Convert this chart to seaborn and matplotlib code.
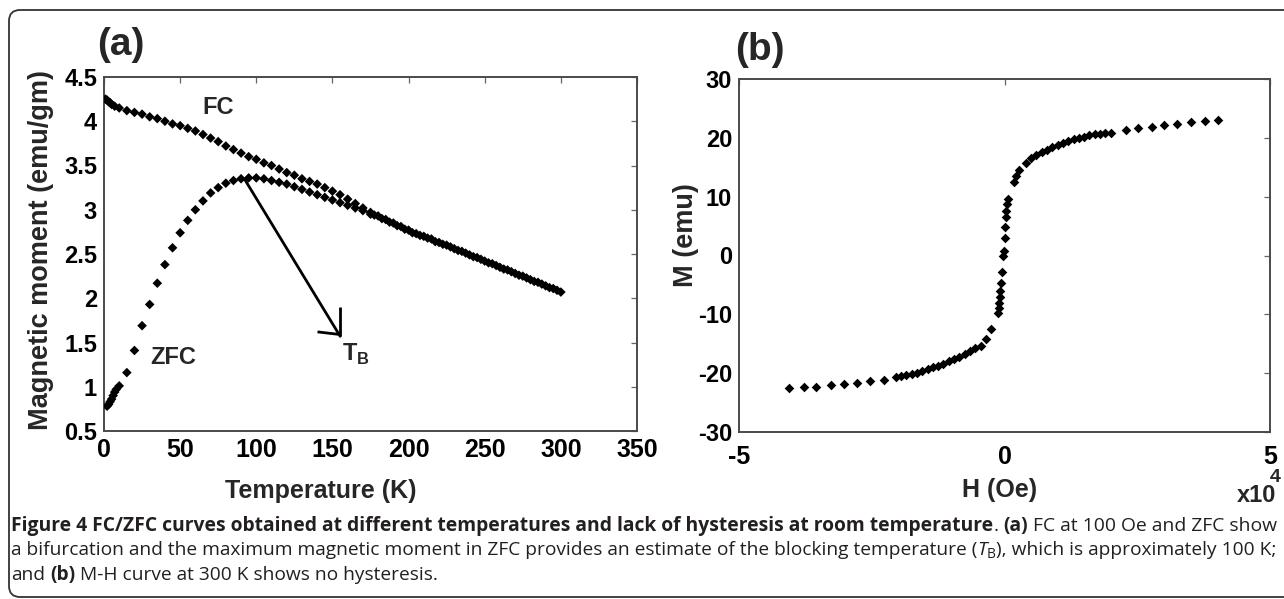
import matplotlib
matplotlib.use("Agg")
import matplotlib.pyplot as plt
import matplotlib.ticker as mticker
from matplotlib.patches import FancyBboxPatch
from matplotlib.transforms import IdentityTransform
import pandas as pd
import seaborn as sns

# ---------------- data ----------------
fc_T = [1, 2, 3, 4, 5, 7, 10, 15, 20, 25, 30, 35, 40, 45, 50, 55, 60, 65, 70, 75,
        80, 85, 90, 95, 100, 105, 110, 115, 120, 125, 130, 135, 140, 145, 150, 155,
        160, 165, 170, 175, 180, 185, 190, 195, 200, 205, 210, 215, 220, 225, 230,
        235, 240, 245, 250, 255, 260, 265, 270, 275, 280, 285, 290, 295, 300]
fc_M = [4.25, 4.24, 4.22, 4.21, 4.19, 4.17, 4.15, 4.12, 4.10, 4.08, 4.05, 4.03, 4.00,
        3.97, 3.95, 3.92, 3.89, 3.85, 3.81, 3.77, 3.72, 3.68, 3.64, 3.60, 3.57, 3.53,
        3.50, 3.46, 3.42, 3.39, 3.35, 3.32, 3.29, 3.25, 3.21, 3.17, 3.12, 3.07, 3.02,
        2.97, 2.93, 2.89, 2.85, 2.81, 2.77, 2.73, 2.70, 2.67, 2.63, 2.60, 2.56, 2.53,
        2.49, 2.46, 2.42, 2.39, 2.35, 2.32, 2.28, 2.25, 2.21, 2.18, 2.14, 2.11, 2.07]

zfc_T = [2, 3, 4, 5, 6, 7, 8, 10, 15, 20, 25, 30, 35, 40, 45, 50, 55, 60, 65, 70, 75,
         80, 85, 90, 95, 100, 105, 110, 115, 120, 125, 130, 135, 140, 145, 150, 155,
         160, 165, 170, 175, 177.5, 182.5, 187.5, 192.5, 197.5, 202.5, 207.5, 212.5,
         217.5, 222.5, 227.5, 232.5, 237.5, 242.5, 247.5, 252.5, 257.5, 262.5, 267.5,
         272.5, 277.5, 282.5, 287.5, 292.5, 297.5]
zfc_M = [0.78, 0.80, 0.83, 0.86, 0.90, 0.94, 0.97, 1.01, 1.16, 1.41, 1.69, 1.93, 2.17,
         2.38, 2.57, 2.74, 2.88, 3.00, 3.10, 3.19, 3.25, 3.30, 3.33, 3.35, 3.36, 3.36,
         3.35, 3.33, 3.31, 3.29, 3.26, 3.23, 3.20, 3.17, 3.14, 3.11, 3.08, 3.05, 3.02,
         2.99, 2.95, 2.94, 2.90, 2.86, 2.82, 2.78, 2.74, 2.71, 2.68, 2.64, 2.61, 2.58,
         2.54, 2.51, 2.47, 2.44, 2.40, 2.37, 2.33, 2.30, 2.26, 2.23, 2.19, 2.16, 2.12,
         2.09]

# field in units of 1e4 Oe, magnetisation in emu
mh_H = [-4.05, -3.78, -3.55, -3.27, -3.02, -2.78, -2.53, -2.27, -2.05, -1.95, -1.85,
        -1.75, -1.65, -1.55, -1.45, -1.35, -1.25, -1.15, -1.05, -0.95, -0.85, -0.75,
        -0.65, -0.55, -0.45, -0.35, -0.25, -0.12, -0.11, -0.10, -0.09, -0.08, -0.07,
        -0.05, -0.02, -0.01, 0.00, 0.01, 0.02, 0.03, 0.05, 0.06, 0.18, 0.22, 0.28,
        0.40, 0.50, 0.60, 0.70, 0.80, 0.90, 1.00, 1.10, 1.20, 1.30, 1.40, 1.50, 1.60,
        1.70, 1.80, 1.90, 2.00, 2.28, 2.52, 2.77, 3.00, 3.25, 3.52, 3.77, 4.02]
mh_M = [-22.6, -22.3, -22.3, -22.0, -21.9, -21.6, -21.3, -21.1, -20.7, -20.5, -20.3,
        -20.1, -19.9, -19.6, -19.3, -19.0, -18.7, -18.4, -18.0, -17.6, -17.2, -16.8,
        -16.3, -15.7, -15.3, -14.2, -12.5, -9.8, -9.0, -8.0, -7.0, -6.0, -4.6, -2.8,
        0.0, 0.8, 3.0, 4.9, 6.5, 7.5, 8.7, 9.6, 12.5, 13.5, 14.5, 15.8, 16.6, 17.1,
        17.6, 18.0, 18.4, 18.8, 19.2, 19.5, 19.8, 20.0, 20.2, 20.4, 20.6, 20.7, 20.8,
        20.9, 21.3, 21.6, 21.9, 22.2, 22.4, 22.7, 22.8, 23.0]

a_xticks = [0, 50, 100, 150, 200, 250, 300, 350]
a_yticks = [0.5, 1, 1.5, 2, 2.5, 3, 3.5, 4, 4.5]
b_xticks = [-5, 0, 5]
b_yticks = [-30, -20, -10, 0, 10, 20, 30]

# ---------------- style ----------------
sns.set_theme(style="white")
plt.rcParams['font.family'] = ['Liberation Sans', 'DejaVu Sans']
plt.rcParams['mathtext.fontset'] = 'custom'
plt.rcParams['mathtext.rm'] = 'Liberation Sans:bold'
plt.rcParams['mathtext.bf'] = 'Liberation Sans:bold'

W, H = 1284, 599
fig = plt.figure(figsize=(W / 100, H / 100), dpi=100)
fig.patch.set_facecolor('white')


def fx(px):
    return px / W


def fy(py):
    return 1 - py / H


ax_a = fig.add_axes([fx(104), fy(431), (637 - 104) / W, (431 - 77) / H])
ax_b = fig.add_axes([fx(739), fy(432), (1270 - 739) / W, (432 - 79) / H])

df_a = pd.DataFrame({'T': fc_T + zfc_T, 'M': fc_M + zfc_M,
                     'curve': ['FC'] * len(fc_T) + ['ZFC'] * len(zfc_T)})
sns.scatterplot(data=df_a, x='T', y='M', hue='curve',
                palette={'FC': 'black', 'ZFC': 'black'}, marker='D', s=24,
                linewidth=0, legend=False, ax=ax_a, zorder=3)

df_b = pd.DataFrame({'H': mh_H, 'M': mh_M})
sns.scatterplot(data=df_b, x='H', y='M', color='black', marker='D', s=24,
                linewidth=0, legend=False, ax=ax_b, zorder=3)

spine_col = '#4a4a4a'
for ax in (ax_a, ax_b):
    ax.set_facecolor('white')
    for s in ax.spines.values():
        s.set_visible(True)
        s.set_color(spine_col)
        s.set_linewidth(1.4)
    ax.set_xlabel('')
    ax.set_ylabel('')
    ax.tick_params(direction='in', top=True, right=True, length=4, width=0.9,
                   color='#666666', labelcolor='black')
    ax.yaxis.set_major_formatter(mticker.FormatStrFormatter('%g'))
    ax.xaxis.set_major_formatter(mticker.FormatStrFormatter('%g'))

ax_a.set_xlim(0, 350)
ax_a.set_ylim(0.5, 4.5)
ax_a.set_xticks(a_xticks)
ax_a.set_yticks(a_yticks)
ax_a.tick_params(axis='x', pad=5, labelsize=18)
ax_a.tick_params(axis='y', pad=5, labelsize=17)

ax_b.set_xlim(-5, 5)
ax_b.set_ylim(-30, 30)
ax_b.set_xticks(b_xticks)
ax_b.set_yticks(b_yticks)
ax_b.tick_params(axis='x', pad=9, labelsize=18)
ax_b.tick_params(axis='y', pad=5, labelsize=17)

for ax in (ax_a, ax_b):
    for lab in ax.get_xticklabels() + ax.get_yticklabels():
        lab.set_fontweight('bold')

# annotations in panel (a)
ax_a.text(74.8, 4.15, 'FC', fontsize=17, fontweight='bold', ha='center', va='center')
ax_a.text(45.4, 1.33, 'ZFC', fontsize=17, fontweight='bold', ha='center', va='center')
ax_a.text(156.0, 1.36, r'T$_\mathregular{B}$', fontsize=17, fontweight='bold',
          ha='left', va='center')
ax_a.annotate('', xy=(155.1, 1.57), xytext=(92.5, 3.34),
              arrowprops=dict(arrowstyle='-', lw=2.0, color='black',
                              shrinkA=0, shrinkB=0))
ax_a.plot([155.1, 155.1], [1.90, 1.57], color='black', lw=2.0, solid_capstyle='butt')
ax_a.plot([140.2, 155.1], [1.62, 1.59], color='black', lw=2.0, solid_capstyle='butt')

# panel titles and axis labels
fig.text(fx(121), fy(45), '(a)', fontsize=28, fontweight='bold', ha='center', va='center')
fig.text(fx(760), fy(50), '(b)', fontsize=28, fontweight='bold', ha='center', va='center')
fig.text(fx(41), fy(250), 'Magnetic moment (emu/gm)', fontsize=19.5, fontweight='bold',
         rotation=90, ha='center', va='center')
fig.text(fx(321), fy(491), 'Temperature (K)', fontsize=18, fontweight='bold',
         ha='center', va='center')
fig.text(fx(686), fy(235), 'M (emu)', fontsize=19.5, fontweight='bold',
         rotation=90, ha='center', va='center')
fig.text(fx(1000), fy(490), 'H (Oe)', fontsize=18, fontweight='bold',
         ha='center', va='center')
fig.text(fx(1257), fy(496), 'x10', fontsize=17, fontweight='bold', ha='center', va='center')
fig.text(fx(1275), fy(478), '4', fontsize=14, fontweight='bold', ha='center', va='center')

# outer rounded frame (continues past the right edge)
frame = FancyBboxPatch((9, 2), 2000, 587, boxstyle='round,pad=0,rounding_size=11',
                       transform=IdentityTransform(), fill=False,
                       edgecolor='#333333', linewidth=1.3)
fig.add_artist(frame)

# ---------------- caption ----------------
CAP_FONT = ['Open Sans', 'DejaVu Sans']
CAP_COL = '#231f20'
cap_lines = [
    [("Figure 4 FC/ZFC curves obtained at different temperatures and lack of "
      "hysteresis at room temperature", 'bold', 'normal', 1.0, 0, False),
     (".", 'normal', 'normal', 1.0, 0, False),
     ("(a)", 'bold', 'normal', 1.0, 0, True),
     ("FC at 100 Oe and ZFC show", 'normal', 'normal', 1.0, 0, True)],
    [("a bifurcation and the maximum magnetic moment in ZFC provides an estimate "
      "of the blocking temperature (", 'normal', 'normal', 1.0, 0, False),
     ("T", 'normal', 'italic', 1.0, 0, False),
     ("B", 'normal', 'normal', 0.72, -3, False),
     ("), which is approximately 100 K;", 'normal', 'normal', 1.0, 0, False)],
    [("and", 'normal', 'normal', 1.0, 0, False),
     ("(b)", 'bold', 'normal', 1.0, 0, True),
     ("M-H curve at 300 K shows no hysteresis.", 'normal', 'normal', 1.0, 0, True)],
]
cap_targets = [1264, 1257]
cap_baselines = [531, 555, 580]
cap_x0 = 11
renderer = fig.canvas.get_renderer()


def space_width(fs):
    sp = fig.text(0, 0, 'a a', fontsize=fs, family=CAP_FONT)
    nsp = fig.text(0, 0, 'aa', fontsize=fs, family=CAP_FONT)
    w = sp.get_window_extent(renderer).width - nsp.get_window_extent(renderer).width
    sp.remove()
    nsp.remove()
    return w


def draw_line(segs, yb, fs):
    arts = []
    space = space_width(fs)
    x = cap_x0
    for text, weight, style, scale, dy, gap in segs:
        if gap:
            x += space
        t = fig.text(fx(x), fy(yb - dy), text, fontsize=fs * scale, fontweight=weight,
                     fontstyle=style, family=CAP_FONT, color=CAP_COL,
                     ha='left', va='baseline')
        x = t.get_window_extent(renderer).x1
        arts.append(t)
    return arts, x - cap_x0


trial = 12.0
sizes = []
for i in range(2):
    arts, w = draw_line(cap_lines[i], cap_baselines[i], trial)
    for a in arts:
        a.remove()
    sizes.append(trial * cap_targets[i] / w)
sizes.append(sum(sizes) / 2)
for segs, yb, fs in zip(cap_lines, cap_baselines, sizes):
    draw_line(segs, yb, fs)

fig.savefig('out.png', dpi=100, facecolor='white')
